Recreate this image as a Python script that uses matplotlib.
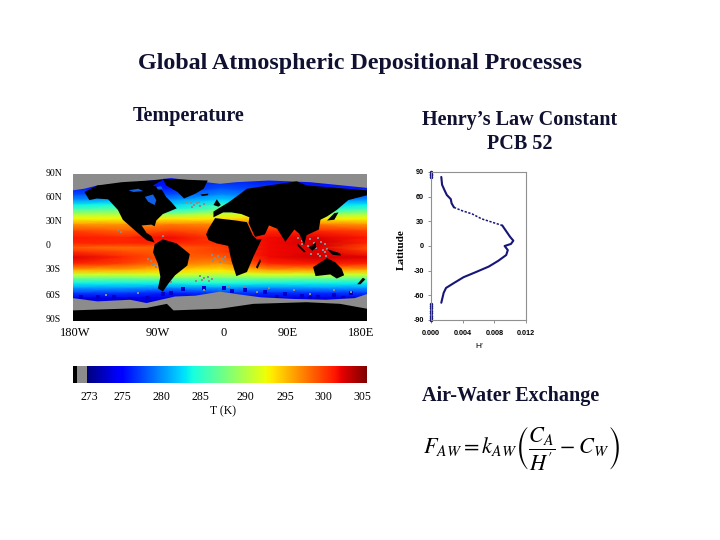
import numpy as np
import matplotlib
matplotlib.use('Agg')
import matplotlib.pyplot as plt

plt.rcParams['font.family'] = ['Liberation Serif', 'DejaVu Serif']
plt.rcParams['mathtext.fontset'] = 'stix'

W, H = 720, 540
GREY = '#8c8c8c'

# ---------- data ----------
sst_lons = [-180, -120, -60, 0, 60, 120, 180]
sst_lats = [90, 72, 64, 58, 52, 46, 40, 35, 28, 20, 12, 5, 0, -5, -12, -20, -28, -33, -38, -44, -50, -56, -62, -90]
sst = [
    [275, 275, 275, 275, 275, 275, 275],
    [277, 277, 277, 279, 278, 277, 277],
    [279, 280, 279, 281, 280, 279, 279],
    [281, 282, 281, 283, 282, 281, 281],
    [284, 285, 283, 286, 285, 283, 284],
    [287, 288, 285, 288, 289, 285, 287],
    [291, 291, 290, 292, 293, 290, 291],
    [293.5, 293.5, 294, 294, 296, 294, 293.5],
    [297, 297, 298, 297.5, 299, 298, 297],
    [300, 299, 300, 299, 301, 301, 300],
    [301.5, 301, 302, 300, 302, 302.5, 301.5],
    [301, 301, 301, 300.5, 302, 303, 301],
    [299, 298.5, 299, 300, 302, 302.5, 299.5],
    [300.5, 299.5, 299, 300, 302, 302.5, 300.5],
    [302.5, 301, 299, 299, 302, 303, 302.5],
    [301, 300, 298, 297, 301, 301.5, 301],
    [296, 296, 295, 294, 296.5, 296.5, 296],
    [292, 292, 292.5, 291.5, 292.5, 292, 292],
    [288, 288, 288.5, 288, 288.5, 288, 288],
    [284, 284, 284, 284.5, 284, 284, 284],
    [281, 281, 280.5, 281, 280.5, 281, 281],
    [278, 278, 277, 278, 277.5, 277.5, 278],
    [275, 275, 275, 275, 275, 275, 275],
    [273, 273, 273, 273, 273, 273, 273],
]

north_america = [(-166, 68), (-160, 58), (-151, 60), (-137, 59), (-125, 46), (-119, 34), (-102, 19), (-90, 9),
                 (-80, 6), (-84, 14), (-90, 18), (-96, 27), (-84, 28), (-80, 26), (-78, 33), (-70, 41), (-60, 45),
                 (-53, 48), (-60, 56), (-66, 62), (-72, 72), (-82, 76), (-70, 83), (-120, 80), (-150, 76)]
greenland = [(-44, 60), (-30, 66), (-20, 72), (-15, 82), (-70, 84), (-66, 76), (-52, 68)]
inland_seas = [[(-92, 62), (-82, 65), (-78, 58), (-80, 52), (-88, 56)],
               [(-112, 70), (-100, 72), (-94, 69), (-106, 68)],
               [(-78, 74), (-72, 75), (-70, 71), (-76, 71)]]
south_america = [(-80, 4), (-70, 10), (-53, 5), (-37, -8), (-40, -22), (-55, -34), (-63, -44), (-70, -54),
                 (-76, -50), (-73, -36), (-76, -20), (-82, -6)]
africa = [(-14, 23), (-6, 36), (20, 33), (33, 31), (40, 15), (45, 10), (51, 10), (41, -11), (33, -30),
          (20, -35), (14, -16), (10, 2), (-4, 5), (-14, 9), (-17, 16)]
eurasia = [(10, 55), (25, 66), (33, 72), (94, 81), (106, 76), (180, 70), (180, 64), (157, 58), (143, 46), (131, 38),
           (123, 34), (121, 22), (106, 15), (103, 3), (97, 17), (91, 22), (80, 7), (70, 23), (60, 27), (55, 16),
           (43, 13), (35, 30), (36, 37), (26, 41), (14, 43), (4, 43), (-8, 37), (-8, 44), (0, 49)]
australia = [(114, -24), (131, -13), (141, -18), (149, -26), (152, -34), (143, -38), (135, -33), (117, -35)]
islands = [[(-8, 52), (-2, 50), (1, 52), (-4, 59)],
           [(44, -24), (49, -14), (50, -17), (46, -26)],
           [(95, 5), (105, -5), (103, -6), (95, 2)],
           [(109, 0), (117, 6), (118, 0), (113, -4)],
           [(131, -2), (147, -7), (148, -10), (138, -9)],
           [(131, 33), (140, 42), (145, 43), (140, 34)],
           [(168, -45), (175, -37), (178, -39), (172, -45)],
           [(-24, 65), (-14, 66), (-15, 64), (-22, 63)]]
antarctica = [(-180, -77), (-90, -74), (-65, -69), (-57, -77), (0, -75), (41, -69), (106, -67), (147, -69),
              (180, -75), (180, -90), (-180, -90)]
south_ice = [(-180, -62), (-150, -66), (-110, -64), (-90, -68), (-55, -60), (-30, -59), (0, -54), (20, -57), (50, -61),
             (90, -63), (130, -64), (165, -62), (180, -57), (180, -78), (-180, -78)]
north_ice = [(-180, 70), (-166, 72), (-150, 76), (-120, 78), (-60, 85), (0, 78), (20, 80), (60, 82), (110, 80),
             (180, 73), (180, 90), (-180, 90)]
speck_lon = [96, 100, 104, 110, 115, 120, 124, 128, 131, 100, 108, 118, 126, 112, 120, 128, 122, 130,
             -10, -6, -2, 2, 6, -8, 0, 5, -88, -84, -80, -76, -72, -82, -78, -74,
             -40, -36, -32, -28, -24, -20, -34, -26, -25, -20, -15, -10, -22, -14, -125, -121,
             -95, -70, -60, -30, 10, 30, 60, 90, 140, -140, -100, -20, 45, 110, 160]
speck_lat = [12, 8, 13, 10, 6, 12, 7, 4, -2, 4, 2, -1, -3, -8, -8, -6, -11, -10,
             -9, -13, -11, -14, -12, -17, -18, -16, -14, -17, -20, -18, -22, -22, -24, -20,
             56, 54, 52, 55, 51, 53, 50, 56, -35, -37, -36, -39, -40, -41, 21, 19,
             22, 14, -42, -41, -48, -47, -50, -52, -52, -58, -56, -52, -55, -57, -54]
dark_lon = [-170, -150, -130, -110, -90, -70, -45, -20, 5, 30, 55, 80, 100, 120, 140, 160, -160, -120, -60, 15, 70, 110, 150, 175]
dark_lat = [-60, -61, -60, -63, -62, -57, -51, -50, -49, -52, -54, -57, -59, -60, -58, -56, -66, -66, -56, -53, -60, -62, -62, -68]

cbar_ticks = ['273', '275', '280', '285', '290', '295', '300', '305']
lat_labels = ['90N', '60N', '30N', '0', '30S', '60S', '90S']
lon_labels = ['180W', '90W', '0', '90E', '180E']

h_values = [.0013, .0014, .0017, .0020, .0025, .0026, .0029, .0039, .0052, .0064, .0077, .0090, .0095, .0100, .0104,
            .0101, .0093, .0097, .0095, .0085, .0073, .0056, .0041, .0029, .0019, .0016, .0013]
h_lats = [84, 74.5, 68, 62, 57, 52, 47, 43, 39, 33, 29, 25, 18, 11, 6.5, 2.5, 0, -5, -11, -18, -25, -32, -38, -45, -51, -57, -69]
edge_lats = [90, 88, 86, 84, -70, -73, -76, -79, -82, -85, -88, -90]
edge_vals = [0] * len(edge_lats)


def box(l, t, r, b):
    return [l / W, 1 - b / H, (r - l) / W, (b - t) / H]


fig = plt.figure(figsize=(7.2, 5.4), dpi=100, facecolor='white')

# ---------- page text ----------
page = fig.add_axes([0, 0, 1, 1])
page.set_xlim(0, W)
page.set_ylim(H, 0)
page.axis('off')


def put(x, y, s, size, **kw):
    page.text(x, y, s, fontsize=size, ha='center', va='center', **kw)


put(360, 64, 'Global Atmospheric Depositional Processes', 17.3, fontweight='bold', color='#101030')
put(189, 116, 'Temperature', 14.5, fontweight='bold', color='#101030')
put(520, 120, 'Henry\u2019s Law Constant', 14.5, fontweight='bold', color='#101030')
put(520, 144, 'PCB 52', 14.5, fontweight='bold', color='#101030')
put(511, 396, 'Air-Water Exchange', 14.5, fontweight='bold', color='#101030')

for y, s in zip([174, 198, 222, 246, 270, 295, 319], lat_labels):
    page.text(46, y, s, fontsize=7, ha='left', va='center')
for x, s in zip([75, 158, 224, 288, 361], lon_labels):
    put(x, 333, s, 9)
for x, s in zip([89, 122, 161, 200, 245, 285, 323, 362], cbar_ticks):
    put(x, 397, s, 8.5)
put(223, 411, 'T (K)', 8.5)
put(401, 250, 'Latitude', 8, rotation=90, fontweight='bold')
page.text(423, 448, r"$F_{AW}=k_{AW}\left(\dfrac{C_A}{H'}-C_W\right)$", fontsize=16, ha='left', va='center')

# ---------- map ----------
ax = fig.add_axes(box(73, 174, 367, 321))
ax.set_xlim(-180, 180)
ax.set_ylim(-90, 90)
ax.pcolormesh(sst_lons, sst_lats, np.array(sst, float), cmap='jet', vmin=272, vmax=305.3, shading='gouraud', zorder=1)
ax.scatter(dark_lon, dark_lat, s=5, marker='s', c='#0000c8', linewidths=0, zorder=2)
ax.scatter(speck_lon, speck_lat, s=3, marker='s', c=GREY, linewidths=0, zorder=2)
ax.fill(*zip(*south_ice), color=GREY, lw=0, zorder=3)
ax.fill(*zip(*north_ice), color=GREY, lw=0, zorder=3)
for poly in [north_america, greenland, south_america, africa, eurasia, australia, antarctica] + islands:
    ax.fill(*zip(*poly), color='black', lw=0, zorder=4)
for poly in inland_seas:
    ax.fill(*zip(*poly), color='#1060e8', lw=0, zorder=5)
ax.set_xticks([])
ax.set_yticks([])
for s in ax.spines.values():
    s.set_visible(False)

# ---------- colour bar ----------
cb = fig.add_axes(box(87, 366, 367, 383))
cb.imshow(np.linspace(0, 1, 256)[None, :], cmap='jet', aspect='auto')
cb.axis('off')
cb2 = fig.add_axes(box(73, 366, 87, 383))
cb2.set_xlim(0, 14)
cb2.set_ylim(0, 1)
cb2.axvspan(0, 4, color='black', lw=0)
cb2.axvspan(4, 14, color=GREY, lw=0)
cb2.axis('off')

# ---------- H' profile ----------
pr = fig.add_axes(box(431, 172, 526, 320))
pr.plot(h_values[:7], h_lats[:7], color='#15157a', lw=1.5, solid_capstyle='round')
pr.plot(h_values[6:12], h_lats[6:12], color='#15157a', lw=1.1, ls=(0, (1.5, 1)))
pr.plot(h_values[11:], h_lats[11:], color='#15157a', lw=1.5, solid_capstyle='round')
pr.plot(edge_vals, edge_lats, color='#15157a', ls='none', marker='.', ms=3, clip_on=False)
pr.set_xlim(0, 0.012)
pr.set_ylim(-90, 90)
pr.set_xticks([0, 0.004, 0.008, 0.012])
pr.set_xticklabels(['0.000', '0.004', '0.008', '0.012'], fontsize=5.2, fontweight='bold', family='Liberation Sans')
pr.set_yticks([-90, -60, -30, 0, 30, 60, 90])
pr.set_yticklabels(['-90', '-60', '-30', '0', '30', '60', '90'], fontsize=5.2, fontweight='bold', family='Liberation Sans')
pr.tick_params(length=2, width=0.6, color='#808080', pad=3)
pr.tick_params(axis='x', pad=5.5)
for s in pr.spines.values():
    s.set_color('#909090')
    s.set_linewidth(0.8)
put(479, 347, "H\u2019", 6, family='Liberation Sans')

fig.savefig('out.png', dpi=100, facecolor='white')
